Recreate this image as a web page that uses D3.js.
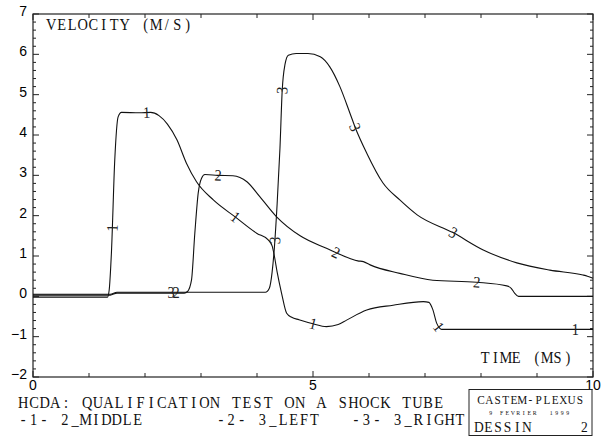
<!DOCTYPE html>
<html lang="en">
<head>
<meta charset="UTF-8">
<title>Shock tube velocity</title>
<script src="https://d3js.org/d3.v7.min.js"></script>
<style>
  body { margin: 0; background: #fff; }
  svg { display: block; }
</style>
</head>
<body>
<div id="chart"></div>
<script>
// data (time in ms, velocity in m/s)
const time1 = [0, 1.33, 1.36, 1.40, 1.46, 1.52, 1.58, 1.9, 2.1, 2.25, 2.4, 2.57, 2.74, 2.92, 3.22, 3.61, 4.0, 4.2, 4.27, 4.31, 4.36, 4.44, 4.53, 4.62, 4.75, 5.0, 5.24, 5.45, 5.6, 5.96, 6.43, 6.97, 7.07, 7.14, 7.21, 7.27, 7.3, 10];
const vel1  = [-0.02, -0.02, 0.15, 1.07, 3.38, 4.45, 4.56, 4.55, 4.56, 4.48, 4.27, 3.88, 3.3, 2.84, 2.39, 1.97, 1.56, 1.4, 1.25, 1.0, 0.6, 0.07, -0.42, -0.52, -0.58, -0.68, -0.75, -0.7, -0.59, -0.34, -0.22, -0.13, -0.15, -0.33, -0.67, -0.8, -0.82, -0.82];

const time2 = [0, 1.38, 1.5, 2.7, 2.76, 2.83, 2.89, 2.95, 3.01, 3.07, 3.3, 3.57, 3.82, 4.05, 4.35, 4.77, 5.24, 5.66, 5.8, 5.9, 6.02, 6.55, 7.14, 7.92, 8.46, 8.54, 8.6, 8.67, 10];
const vel2  = [0.03, 0.03, 0.08, 0.08, 0.12, 0.4, 1.57, 2.56, 2.93, 3.02, 3.0, 2.99, 2.84, 2.47, 1.97, 1.5, 1.19, 0.94, 0.88, 0.86, 0.78, 0.57, 0.4, 0.35, 0.26, 0.2, 0.08, 0.0, 0.0];

const time3 = [0, 1.38, 1.5, 4.15, 4.22, 4.27, 4.31, 4.36, 4.41, 4.45, 4.5, 4.56, 4.7, 4.91, 5.13, 5.3, 5.48, 5.66, 5.75, 5.96, 6.25, 6.55, 6.86, 7.5, 8.04, 8.64, 9.23, 9.82, 9.9, 10];
const vel3  = [0.05, 0.05, 0.1, 0.1, 0.2, 0.6, 1.2, 2.3, 3.67, 5.1, 5.75, 5.98, 6.02, 6.02, 5.94, 5.69, 5.2, 4.54, 4.2, 3.55, 2.81, 2.39, 2.02, 1.58, 1.15, 0.83, 0.65, 0.53, 0.5, 0.45];

// where the curve numbers sit: [time, velocity]
const marks1 = [[1.38, 1.69], [2.03, 4.6], [3.61, 1.97], [5.0, -0.67], [7.25, -0.75], [9.68, -0.82]];
const marks2 = [[2.56, 0.08], [3.3, 3.0], [5.42, 1.1], [7.92, 0.35]];
const marks3 = [[2.47, 0.1], [4.27, 1.4], [4.44, 5.1], [5.75, 4.2], [7.5, 1.58]];

const xTicks = [0, 5, 10];
const yTicks = [-2, -1, 0, 1, 2, 3, 4, 5, 6, 7];

const series = [
  {id: "1", t: time1, v: vel1, marks: marks1},
  {id: "2", t: time2, v: vel2, marks: marks2},
  {id: "3", t: time3, v: vel3, marks: marks3}
];

const width = 605, height = 437;
const box = {left: 33, right: 593, top: 14, bottom: 377};
const serif = "'Liberation Serif', 'DejaVu Serif', serif";
const sans = "'Liberation Sans', Arial, sans-serif";

const svg = d3.select("#chart").append("svg")
  .attr("width", width)
  .attr("height", height);

const x = d3.scaleLinear().domain([0, 10]).range([box.left, box.right]);
const y = d3.scaleLinear().domain([-2, 7]).range([box.bottom, box.top]);

// plotter-style text: serif glyphs placed in fixed-width cells
function plotText(g, x0, y0, str, cell, size, sx) {
  sx = sx || 0.9;
  const t = g.append("text")
    .attr("transform", `translate(${x0},${y0}) scale(${sx},1)`)
    .attr("font-family", serif).attr("font-size", size)
    .attr("text-anchor", "middle").attr("fill", "#111");
  str.split("").forEach((c, i) => {
    if (c === " ") return;
    t.append("tspan").attr("x", (cell * (i + 0.5)) / sx).attr("y", 0).text(c);
  });
  return t;
}

// frame
svg.append("rect")
  .attr("x", box.left).attr("y", box.top)
  .attr("width", box.right - box.left).attr("height", box.bottom - box.top)
  .attr("fill", "none").attr("stroke", "#222").attr("stroke-width", 1.2);

// inward ticks on all four sides
const ticks = svg.append("g").attr("stroke", "#222").attr("stroke-width", 1);
d3.range(0, 10.01, 1).forEach(t => {
  const len = t % 5 === 0 ? 6 : 4;
  ticks.append("line").attr("x1", x(t)).attr("x2", x(t)).attr("y1", box.top).attr("y2", box.top + len);
  ticks.append("line").attr("x1", x(t)).attr("x2", x(t)).attr("y1", box.bottom).attr("y2", box.bottom - len);
});
d3.range(-2, 7.001, 0.2).forEach(v => {
  const major = Math.abs(v - Math.round(v)) < 1e-6;
  const len = major ? 6 : 3;
  ticks.append("line").attr("x1", box.left).attr("x2", box.left + len).attr("y1", y(v)).attr("y2", y(v));
  ticks.append("line").attr("x1", box.right).attr("x2", box.right - len).attr("y1", y(v)).attr("y2", y(v));
});

// tick labels
svg.append("g").selectAll("text").data(yTicks).join("text")
  .attr("x", 27).attr("y", d => y(d) + 2)
  .attr("text-anchor", "end")
  .attr("font-family", sans).attr("font-size", 14)
  .text(d => d < 0 ? "\u2212" + Math.abs(d) : d);

svg.append("g").selectAll("text").data(xTicks).join("text")
  .attr("x", d => x(d)).attr("y", 390)
  .attr("text-anchor", "middle")
  .attr("font-family", sans).attr("font-size", 14)
  .text(d => d);

// axis titles
plotText(svg, 46, 29.5, "VELOCITY (M/S)", 10.5, 16);
plotText(svg, 480, 363, "TIME (MS)", 10.33, 16);

// curves
const line = d3.line().curve(d3.curveMonotoneX);
const plot = svg.append("g");
series.forEach(s => {
  const pts = s.t.map((t, i) => [x(t), y(s.v[i])]);
  const path = plot.append("path")
    .attr("d", line(pts))
    .attr("fill", "none").attr("stroke", "#111").attr("stroke-width", 1.1);
  const node = path.node();
  const total = node.getTotalLength();
  s.marks.forEach(m => {
    const tx = x(m[0]), ty = y(m[1]);
    // nearest point on the drawn curve
    let best = 0, bestD = Infinity;
    for (let l = 0; l <= total; l += 0.5) {
      const p = node.getPointAtLength(l);
      const d = (p.x - tx) ** 2 + (p.y - ty) ** 2;
      if (d < bestD) { bestD = d; best = l; }
    }
    const p = node.getPointAtLength(best);
    const a = node.getPointAtLength(Math.max(0, best - 3));
    const b = node.getPointAtLength(Math.min(total, best + 3));
    const ang = Math.atan2(b.y - a.y, b.x - a.x) * 180 / Math.PI;
    plot.append("text")
      .attr("transform", `translate(${p.x},${p.y}) rotate(${ang}) scale(0.9,1)`)
      .attr("text-anchor", "middle").attr("dy", "0.33em")
      .attr("font-family", serif).attr("font-size", 16)
      .attr("fill", "#222")
      .text(s.id);
  });
});

// caption
plotText(svg, 18, 408, "HCDA: QUALIFICATION TEST ON A SHOCK TUBE", 10.65, 16);
plotText(svg, 18, 425, "-1- 2_MIDDLE       -2- 3_LEFT   -3- 3_RIGHT", 10.4, 16);

// stamp box
svg.append("rect").attr("x", 469).attr("y", 389.5).attr("width", 123).attr("height", 46)
  .attr("fill", "none").attr("stroke", "#222").attr("stroke-width", 1);
plotText(svg, 477, 404, "CASTEM-PLEXUS", 8.23, 12.5);
plotText(svg, 488, 414.5, "9 FEVRIER  1999", 5.5, 6.5);
plotText(svg, 474, 432, "DESSIN     2", 9.6, 15);
</script>
</body>
</html>
